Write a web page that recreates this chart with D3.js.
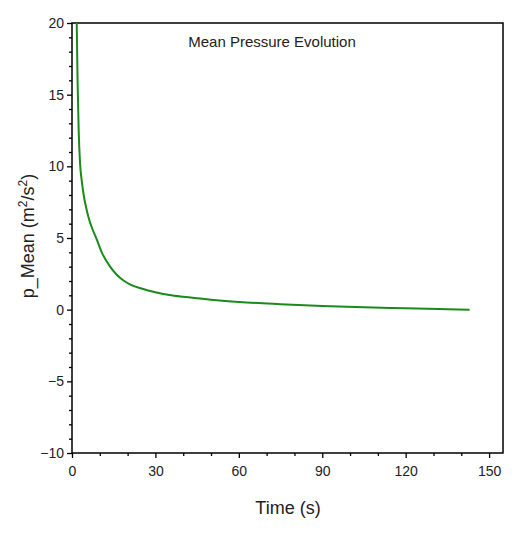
<!DOCTYPE html>
<html><head><meta charset="utf-8">
<script src="https://cdn.jsdelivr.net/npm/d3@7"></script>
<style>body{margin:0;background:#fff}</style></head>
<body><svg id="c" width="527" height="534"></svg>
<script>
const timeS = [1.7, 2.0, 2.4, 2.9, 3.5, 4.2, 5.0, 6.0, 7.0, 8.9, 10.7, 13.7, 16, 18.4, 21, 25, 30, 35, 40, 50, 60, 75, 90, 105, 120, 132, 143];
const pMean = [20, 16, 12.5, 10.2, 9.0, 8.0, 7.2, 6.4, 5.8, 4.9, 4.0, 3.0, 2.45, 2.05, 1.75, 1.48, 1.22, 1.03, 0.9, 0.7, 0.54, 0.38, 0.25, 0.16, 0.1, 0.05, 0.0];
const xTicks = [0, 30, 60, 90, 120, 150];
const yTicks = [-10, -5, 0, 5, 10, 15, 20];

const svg = d3.select("#c");
const L = 72, R = 503, T = 23, B = 453;
const x = d3.scaleLinear().domain([0, 155]).range([L, R]);
const y = d3.scaleLinear().domain([-10, 20]).range([B, T]);
const font = "Liberation Sans, Arial, sans-serif";

svg.append("rect").attr("x", L).attr("y", T).attr("width", R - L).attr("height", B - T)
  .attr("fill", "none").attr("stroke", "#000").attr("stroke-width", 1.5);

const gx = svg.append("g").attr("transform", `translate(0,${B})`)
  .call(d3.axisBottom(x).tickValues(xTicks).tickSize(5).tickFormat(d3.format("d")));
svg.append("g").attr("transform", `translate(0,${B})`)
  .call(d3.axisBottom(x).tickValues(d3.range(10, 155, 10).filter(v => v % 30)).tickSize(3).tickFormat(""));
const gy = svg.append("g").attr("transform", `translate(${L},0)`)
  .call(d3.axisLeft(y).tickValues(yTicks).tickSize(5).tickFormat(d => d < 0 ? "\u2212" + (-d) : d));
svg.append("g").attr("transform", `translate(${L},0)`)
  .call(d3.axisLeft(y).tickValues(d3.range(-9, 20, 1).filter(v => v % 5)).tickSize(3).tickFormat(""));
svg.selectAll(".domain").remove();
svg.selectAll(".tick line").attr("stroke", "#000").attr("stroke-width", 1.3);
svg.selectAll(".tick text").attr("font-family", font).attr("font-size", 14).attr("fill", "#222");
gx.selectAll(".tick text").attr("dy", "1.1em");

svg.append("path").datum(timeS.map((t, i) => [t, pMean[i]]))
  .attr("d", d3.line().x(d => x(d[0])).y(d => y(d[1])).curve(d3.curveMonotoneX))
  .attr("fill", "none").attr("stroke", "#1a8a1a").attr("stroke-width", 2);

svg.append("text").attr("x", 272).attr("y", 47).attr("text-anchor", "middle")
  .attr("font-family", font).attr("font-size", 15).attr("fill", "#222").text("Mean Pressure Evolution");
svg.append("text").attr("x", 288).attr("y", 514).attr("text-anchor", "middle")
  .attr("font-family", font).attr("font-size", 18).attr("fill", "#222").text("Time (s)");
const yl = svg.append("text").attr("transform", `translate(34,236) rotate(-90)`)
  .attr("text-anchor", "middle").attr("font-family", font).attr("font-size", 18).attr("fill", "#222");
yl.append("tspan").text("p_Mean (m");
yl.append("tspan").attr("dy", -7).attr("font-size", 12).text("2");
yl.append("tspan").attr("dy", 7).text("/s");
yl.append("tspan").attr("dy", -7).attr("font-size", 12).text("2");
yl.append("tspan").attr("dy", 7).text(")");
</script></body></html>
